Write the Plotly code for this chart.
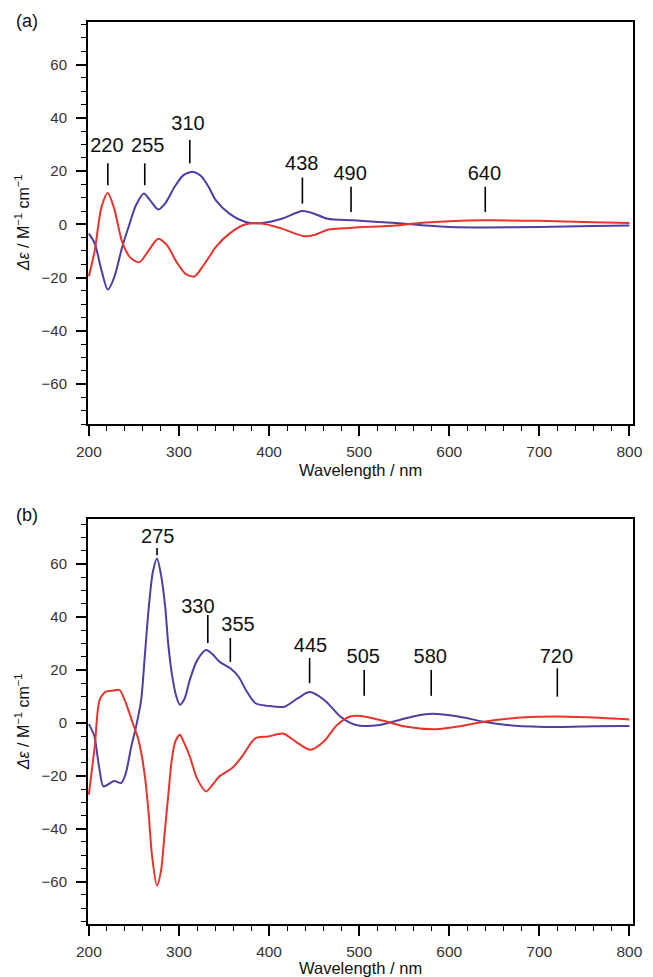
import plotly.graph_objects as go

# ---- panel (a) spectra ----
wl_a_blue = [200, 206.5, 214, 221, 228, 237, 245, 252, 261, 268, 277, 285, 295, 305, 316, 325,
             333, 341, 356, 374, 392, 414, 437, 450, 465, 493, 541, 570, 600, 640, 700, 760, 800]
de_a_blue = [-3.5, -7.2, -17.3, -24.5, -20, -8.5, 0, 7, 11.6, 9, 5.6, 8, 14, 18.5, 19.7, 18,
             14, 9, 4, 0.9, 0.5, 2.1, 5.0, 4, 2.1, 1.5, 0.5, -0.3, -1.0, -1.2, -1.0, -0.6, -0.4]

wl_a_red = [200, 206.5, 214, 221, 228, 237, 246, 256, 266, 277, 287, 297, 307, 317, 326, 334,
            341, 356, 374, 392, 414, 439, 452, 465, 493, 541, 570, 600, 640, 700, 760, 800]
de_a_red = [-19.5, -9.8, 6.5, 11.8, 6, -6.7, -12.5, -14.2, -10, -5.4, -8, -14, -18.5, -19.6, -16, -12,
            -8.5, -3.5, 0, 0.3, -1.6, -4.5, -3.8, -2.0, -1.3, -0.4, 0.6, 1.2, 1.5, 1.3, 0.8, 0.5]

# ---- panel (b) spectra ----
wl_b_blue = [200, 206, 211, 216, 220, 228, 236, 241, 247, 252, 258, 262, 266.5, 271, 275.6, 280,
             284.7, 288, 292, 297, 301, 306, 312, 320, 330, 337, 345, 357, 366, 375, 385, 399,
             417, 432, 445, 461, 479, 490, 501, 523, 545, 565, 581, 610, 640, 670, 720, 760, 800]
de_b_blue = [-0.5, -5, -16, -24, -23.5, -22, -22.7, -19, -9, -2, 8.7, 25, 43.8, 57, 62.1, 56,
             43.8, 30, 18.7, 10, 6.8, 9, 16.2, 23.5, 27.5, 26, 23.1, 20.6, 17.5, 12, 7.4, 6.4,
             6.1, 9.3, 11.6, 8.7, 2.4, 0, -1.1, -0.8, 1.1, 2.8, 3.4, 2.4, 0.3, -1.0, -1.6, -1.3, -1.2]

wl_b_red = [200, 206.5, 212, 219, 227, 234, 241, 250, 255, 259, 263, 266.5, 270, 275.6, 280,
            284, 288, 292, 296, 301, 305, 312, 320, 330, 337, 345, 359, 370, 385, 399, 416,
            432, 446.5, 461, 475.5, 490, 502, 530, 551, 585, 610, 640, 680, 720, 760, 800]
de_b_red = [-27.1, -8.9, 8.7, 11.8, 12.2, 12.4, 7.4, -1.4, -6.4, -13, -22.6, -35, -50, -61.5, -56,
            -42, -27.8, -14, -7, -4.5, -7, -12.7, -21, -25.9, -23.5, -20.2, -17.1, -12.7, -5.8, -5.2, -4.1,
            -7.7, -10.2, -7, -0.8, 2.4, 2.6, 0.5, -1.4, -2.4, -1.4, 0.5, 2.0, 2.4, 2.0, 1.3]

# ---- peak labels: text, text position, marker line position and extent ----
lab_a_text = ["220", "255", "310", "438", "490", "640"]
lab_a_tx = [220, 265.4, 310, 436.3, 490, 639]
lab_a_ty = [29.1, 29.1, 37.3, 22.2, 18.5, 18.5]
lab_a_lx = [221, 262, 312, 437, 491, 640]
lab_a_top = [22.9, 22.9, 31.7, 17.6, 14.1, 14.1]
lab_a_bot = [14.7, 14.7, 22.9, 7.8, 4.6, 4.6]

lab_b_text = ["275", "330", "355", "445", "505", "580", "720"]
lab_b_tx = [276.5, 321, 365.5, 446, 504.6, 579, 719]
lab_b_ty = [69.7, 43.4, 36.6, 28.8, 24.4, 24.4, 24.4]
lab_b_lx = [275.6, 332, 357, 445, 505.6, 580, 720]
lab_b_top = [66, 40.7, 32, 24.5, 20, 20, 20.6]
lab_b_bot = [63.3, 30.2, 23, 15, 10.2, 10.2, 9.9]

x_ticks = [200, 300, 400, 500, 600, 700, 800]
y_ticks = [-60, -40, -20, 0, 20, 40, 60]

BLUE = "#4a3fa3"
RED = "#e8332b"
FONT = "Liberation Sans, Arial, Helvetica, sans-serif"

fig = go.Figure()


def add_panel(xa, ya, wb, db, wr, dr, texts, tx, ty, lx, ltop, lbot):
    fig.add_trace(go.Scatter(x=wb, y=db, mode="lines", line=dict(color=BLUE, width=2, shape="spline", smoothing=0.8),
                             xaxis=xa, yaxis=ya, hoverinfo="skip"))
    fig.add_trace(go.Scatter(x=wr, y=dr, mode="lines", line=dict(color=RED, width=2, shape="spline", smoothing=0.8),
                             xaxis=xa, yaxis=ya, hoverinfo="skip"))
    seg_x, seg_y = [], []
    for x0, t0, b0 in zip(lx, ltop, lbot):
        seg_x += [x0, x0, None]
        seg_y += [t0, b0, None]
    fig.add_trace(go.Scatter(x=seg_x, y=seg_y, mode="lines", line=dict(color="black", width=1.6),
                             xaxis=xa, yaxis=ya, hoverinfo="skip"))
    fig.add_trace(go.Scatter(x=tx, y=ty, mode="text", text=texts, textposition="middle center",
                             textfont=dict(family=FONT, size=20, color="#111111"),
                             xaxis=xa, yaxis=ya, hoverinfo="skip"))


add_panel("x", "y", wl_a_blue, de_a_blue, wl_a_red, de_a_red,
          lab_a_text, lab_a_tx, lab_a_ty, lab_a_lx, lab_a_top, lab_a_bot)
add_panel("x2", "y2", wl_b_blue, de_b_blue, wl_b_red, de_b_red,
          lab_b_text, lab_b_tx, lab_b_ty, lab_b_lx, lab_b_top, lab_b_bot)

xaxis_style = dict(range=[199, 804], tickvals=x_ticks, ticks="outside", ticklen=10, tickwidth=1.5,
                   tickcolor="black", showline=True, linecolor="black", linewidth=2, mirror=True,
                   showgrid=False, zeroline=False, ticklabelstandoff=2,
                   tickfont=dict(family=FONT, size=15.5, color="#333333"),
                   minor=dict(dtick=20, tick0=200, ticks="outside", ticklen=5, tickwidth=1.2, tickcolor="black"))
yaxis_style = dict(tickvals=y_ticks, ticks="outside", ticklen=10, tickwidth=1.5,
                   tickcolor="black", showline=True, linecolor="black", linewidth=2, mirror=True,
                   showgrid=False, zeroline=False, ticklabelstandoff=6,
                   tickfont=dict(family=FONT, size=15, color="#333333"),
                   minor=dict(dtick=5, tick0=0, ticks="outside", ticklen=5, tickwidth=1.2, tickcolor="black"))

W, H = 653, 977
ML, MR, MT, MB = 88, 10, 22, 53
PW, PH = W - ML - MR, H - MT - MB


def px(xpix):
    return (xpix - ML) / PW


def py(ypix):
    return (H - MB - ypix) / PH


fig.update_layout(
    width=W, height=H,
    margin=dict(l=ML, r=MR, t=MT, b=MB),
    paper_bgcolor="white", plot_bgcolor="white",
    showlegend=False,
    xaxis=dict(domain=[0, 1], anchor="y", **xaxis_style),
    yaxis=dict(domain=[py(424), 1], anchor="x", range=[-75, 76], **yaxis_style),
    xaxis2=dict(domain=[0, 1], anchor="y2", **xaxis_style),
    yaxis2=dict(domain=[0, py(519)], anchor="x2", range=[-76, 77], **yaxis_style),
)

ytitle = "<i>Δε</i> / M<sup>−1</sup> cm<sup>−1</sup>"
notes = [
    dict(text="(a)", x=px(26), y=py(21), size=18),
    dict(text="(b)", x=px(26), y=py(515), size=18),
    dict(text="Wavelength / nm", x=px(365), y=py(470), size=16.5),
    dict(text="Wavelength / nm", x=px(365), y=py(968), size=16.5),
]
for n in notes:
    fig.add_annotation(text=n["text"], xref="paper", yref="paper", x=n["x"], y=n["y"],
                       xanchor="center", yanchor="middle", showarrow=False,
                       font=dict(family=FONT, size=n["size"], color="#111111"))
for ycen in (223, 722):
    fig.add_annotation(text=ytitle, xref="paper", yref="paper", x=px(21), y=py(ycen),
                       xanchor="center", yanchor="middle", showarrow=False, textangle=-90,
                       font=dict(family=FONT, size=16, color="#111111"))

fig.write_html("out.html")
